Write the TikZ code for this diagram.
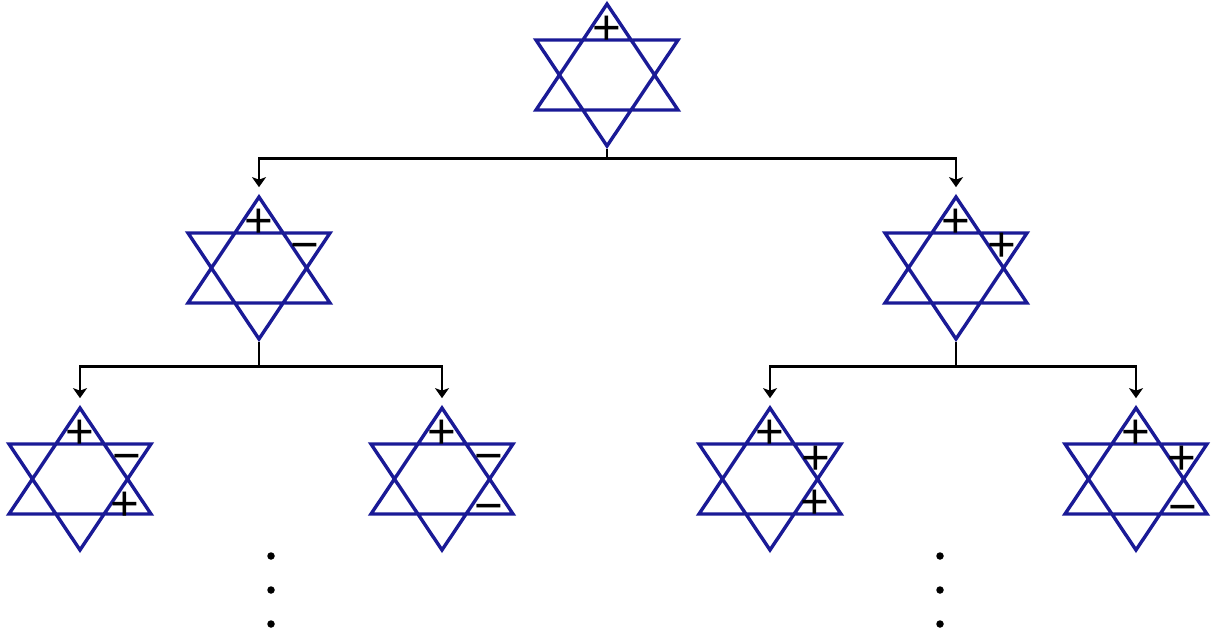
\documentclass[tikz,border=0pt]{standalone}
\usepackage{fontspec}
\setmainfont{Liberation Sans}
\usetikzlibrary{arrows.meta,calc}
\definecolor{cStar}{HTML}{1A1A96}
\tikzset{
  starbox/.style={inner sep=0pt, minimum width=28.4mm, minimum height=28.4mm},
  starline/.style={draw=cStar, line width=0.68mm},
  sign/.style={inner sep=0pt, font=\fontsize{28}{30}\selectfont, anchor=base, yshift=-10pt},
  arr/.style={-{Stealth[length=2mm, width=2.8mm, inset=0.5mm]}, line width=0.55mm,
              shorten <=0.6mm, shorten >=1.9mm},
  dot/.style={circle, fill=black, inner sep=0pt, minimum size=1.5mm}
}
\newcommand{\hexstar}[1]{%
  \draw[starline, shift={(#1)}] (0,-71) -- (-71,35) -- (71,35) -- cycle
    (0,71) -- (-71,-35) -- (71,-35) -- cycle;}

\begin{document}
\begin{tikzpicture}[x=0.2mm, y=-0.2mm]
\useasboundingbox (0,0) rectangle (1219,633);
% stars
\node[starbox] (root) at (607,75) {};
\node[starbox] (l) at (259,268) {};
\node[starbox] (r) at (956,268) {};
\node[starbox] (ll) at (80,479) {};
\node[starbox] (lr) at (442,479) {};
\node[starbox] (rl) at (770,479) {};
\node[starbox] (rr) at (1136,479) {};
\foreach \s in {root,l,r,ll,lr,rl,rr} {\hexstar{\s}}
% signs at the tips
\foreach \s in {root,l,r,ll,lr,rl,rr}
  \node[sign] (\s-t) at ($(\s)+(0,-48)$) {+};
\node[sign] (l-ur) at ($(l)+(46,-24)$) {−};
\node[sign] (r-ur) at ($(r)+(46,-24)$) {+};
\node[sign] (ll-ur) at ($(ll)+(47,-24)$) {−};
\node[sign] (ll-lr) at ($(ll)+(45,24)$) {+};
\node[sign] (lr-ur) at ($(lr)+(47,-24)$) {−};
\node[sign] (lr-lr) at ($(lr)+(47,26)$) {−};
\node[sign] (rl-ur) at ($(rl)+(46,-22)$) {+};
\node[sign] (rl-lr) at ($(rl)+(45,22)$) {+};
\node[sign] (rr-ur) at ($(rr)+(46,-22)$) {+};
\node[sign] (rr-lr) at ($(rr)+(47,27)$) {−};
% connectors
\draw[arr] (root.south) -- ++(0,12) -| (l.north);
\draw[arr] (root.south) -- ++(0,12) -| (r.north);
\draw[arr] (l.south) -- ++(0,27) -| (ll.north);
\draw[arr] (l.south) -- ++(0,27) -| (lr.north);
\draw[arr] (r.south) -- ++(0,27) -| (rl.north);
\draw[arr] (r.south) -- ++(0,27) -| (rr.north);
% continuation dots
\foreach \y [count=\i] in {556,590,624} {
  \node[dot] (dl\i) at (271,\y) {};
  \node[dot] (dr\i) at (940,\y) {};
}
\end{tikzpicture}
\end{document}
